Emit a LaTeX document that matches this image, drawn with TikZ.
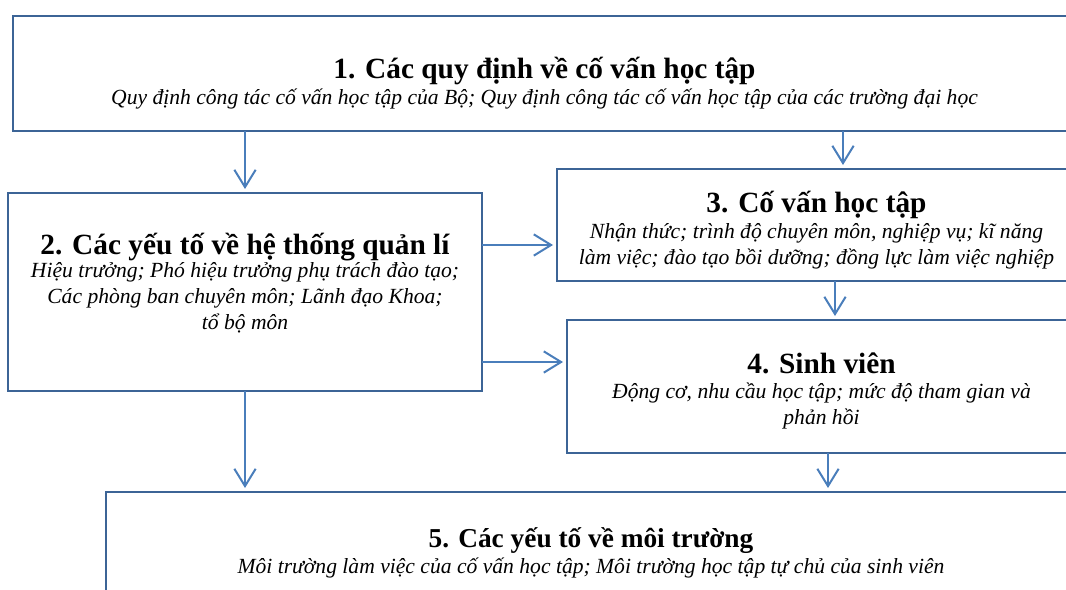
\documentclass[tikz,border=0pt]{standalone}
\usepackage{fontspec}
\setmainfont{Liberation Serif}
\usetikzlibrary{arrows.meta}
\definecolor{boxblue}{RGB}{60,100,150}
\definecolor{arrblue}{RGB}{74,126,187}
\begin{document}
\begin{tikzpicture}[x=0.75pt,y=-0.75pt,
  box/.style={draw=boxblue, line width=2.1pt, anchor=north west, inner sep=0pt, outer sep=0pt},
  arr/.style={draw=arrblue, line width=1.5pt, -{Straight Barb[length=13pt,width=16pt]}, shorten >=3pt},
  ttl/.style={font=\fontsize{22}{26}\selectfont\bfseries, anchor=base, inner sep=0pt},
  sub/.style={font=\fontsize{16.2}{19.5}\selectfont\itshape, anchor=base, align=center, inner sep=0pt}]
\useasboundingbox (0,0) rectangle (1066,589);
\begin{scope}
\clip (0,0) rectangle (1066,589);
\node[box, minimum width=1063*0.75pt, minimum height=115*0.75pt] (b1) at (13,16) {};
\node[box, minimum width=474*0.75pt, minimum height=198*0.75pt] (b2) at (8,193) {};
\node[box, minimum width=519*0.75pt, minimum height=112*0.75pt] (b3) at (557,169) {};
\node[box, minimum width=509*0.75pt, minimum height=133*0.75pt] (b4) at (567,320) {};
\node[box, minimum width=970*0.75pt, minimum height=140*0.75pt] (b5) at (106,492) {};

\draw[arr] (b1.south -| b2.north) -- (b2.north);
\draw[arr] (b1.south -| 843,0) -- (b3.north -| 843,0);
\draw[arr] (b2.east |- 0,245) -- (b3.west |- 0,245);
\draw[arr] (b2.east |- 0,362) -- (b4.west |- 0,362);
\draw[arr] (b3.south -| 835,0) -- (b4.north -| 835,0);
\draw[arr] (b2.south) -- (b5.north -| b2.south);
\draw[arr] (b4.south -| 828,0) -- (b5.north -| 828,0);

\node[ttl] (t1) at (b1.center |- 0,78) {1. Các quy định về cố vấn học tập};
\node[sub] (s1) at (b1.center |- 0,104) {Quy định công tác cố vấn học tập của Bộ; Quy định công tác cố vấn học tập của các trường đại học};
\node[ttl] (t2) at (b2.center |- 0,254) {2. Các yếu tố về hệ thống quản lí};
\node[sub] (s2) at (b2.center |- 0,329) {Hiệu trưởng; Phó hiệu trưởng phụ trách đào tạo;\\ Các phòng ban chuyên môn; Lãnh đạo Khoa;\\ tổ bộ môn};
\node[ttl] (t3) at (b3.center |- 0,212) {3. Cố vấn học tập};
\node[sub] (s3) at (b3.center |- 0,264) {Nhận thức; trình độ chuyên môn, nghiệp vụ; kĩ năng\\ làm việc; đào tạo bồi dưỡng; đồng lực làm việc nghiệp};
\node[ttl] (t4) at (b4.center |- 0,373) {4. Sinh viên};
\node[sub] (s4) at (b4.center |- 0,424) {Động cơ, nhu cầu học tập; mức độ tham gian và\\ phản hồi};
\node[ttl, font=\fontsize{20.5}{24}\selectfont\bfseries] (t5) at (b5.center |- 0,547) {5. Các yếu tố về môi trường};
\node[sub] (s5) at (b5.center |- 0,573) {Môi trường làm việc của cố vấn học tập; Môi trường học tập tự chủ của sinh viên};
\end{scope}
\end{tikzpicture}
\end{document}
